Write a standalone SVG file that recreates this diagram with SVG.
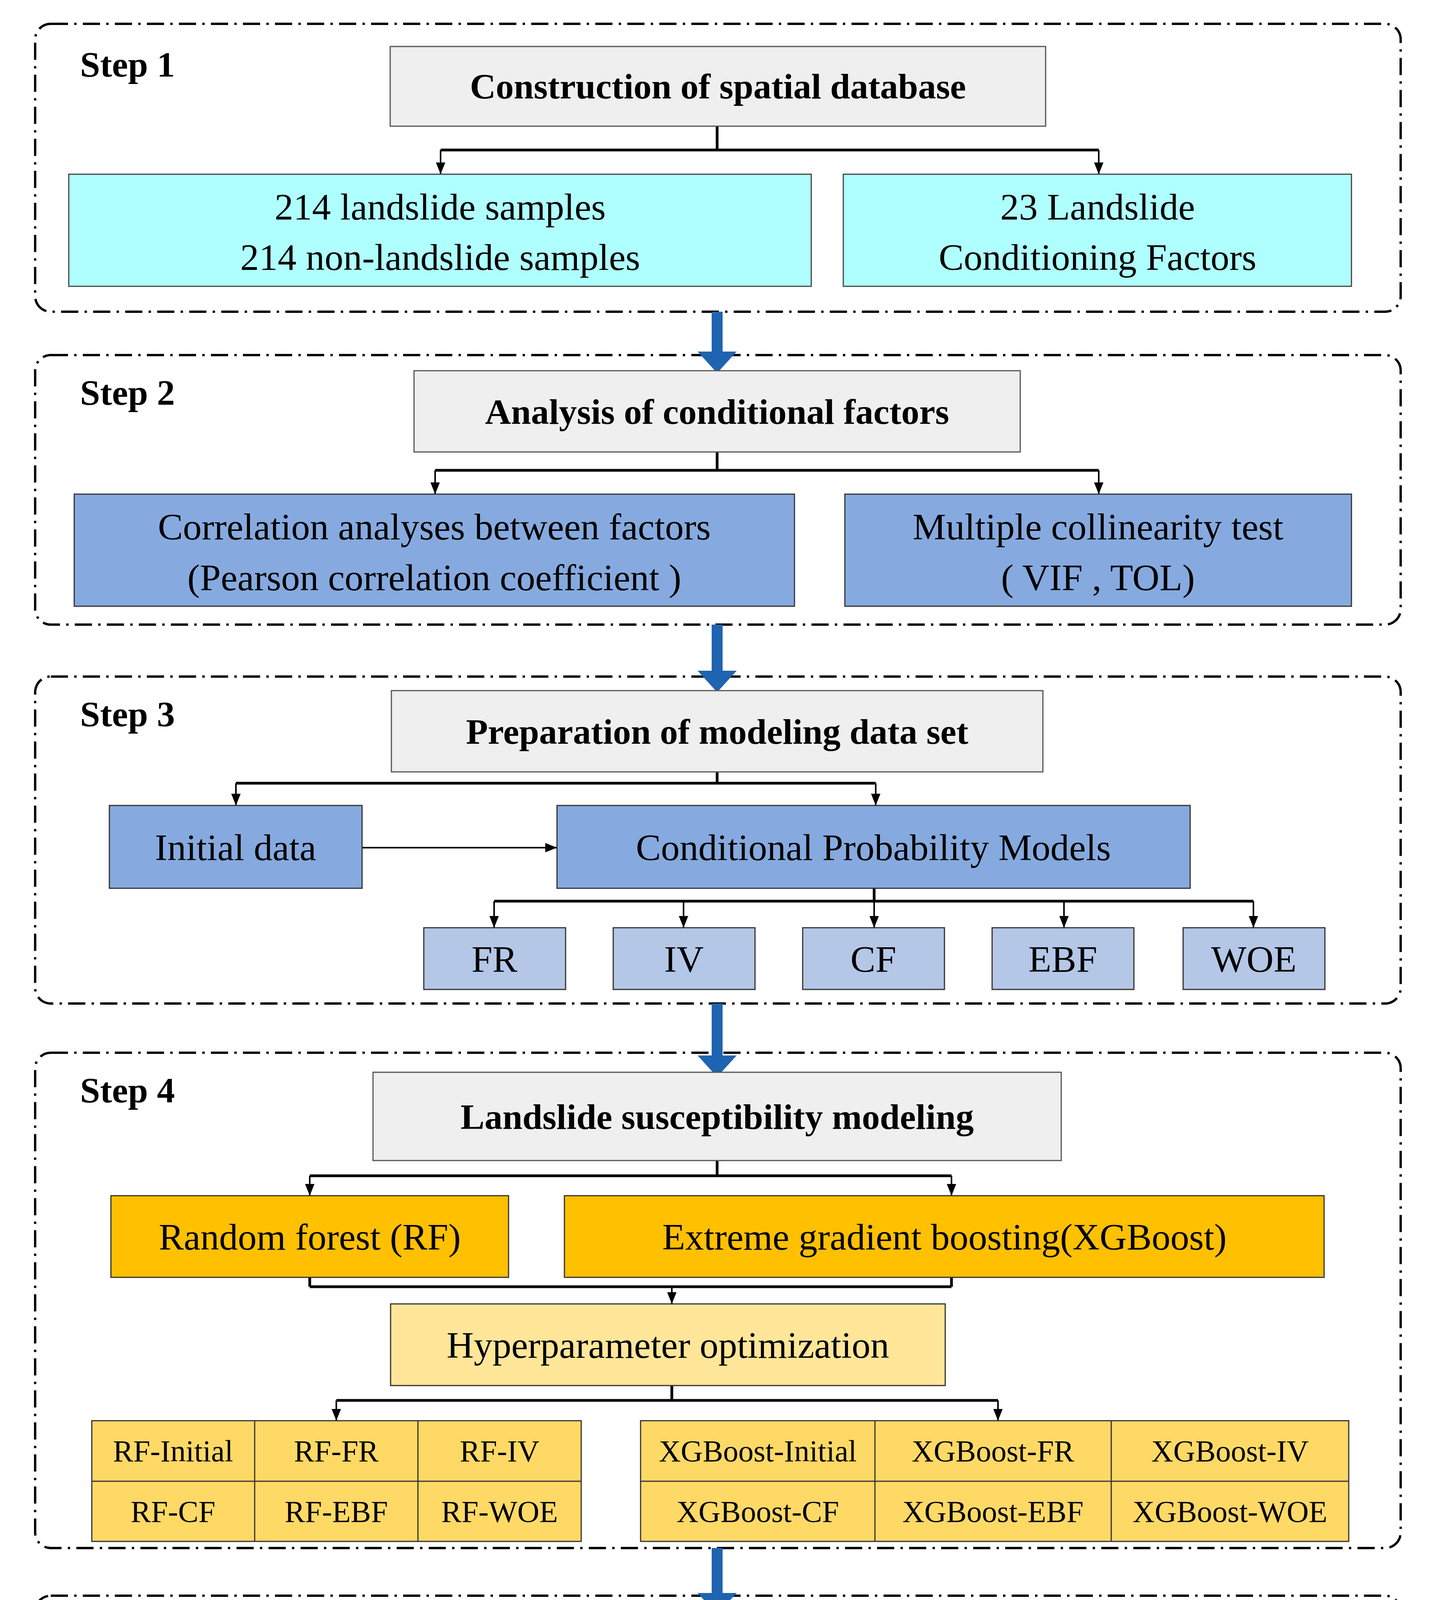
<svg xmlns="http://www.w3.org/2000/svg" width="3679" height="5676" viewBox="0 0 3679 5676">
<defs>
<marker id="a" viewBox="0 0 30 24" refX="30" refY="12" markerWidth="30" markerHeight="24" orient="auto" markerUnits="userSpaceOnUse"><path d="M0,0 L30,12 L0,24 z" fill="#000"/></marker>
</defs>
<style>
.step{fill:none;stroke:#000;stroke-width:6;stroke-dasharray:44 16 6 16}
.lab{font-family:"Liberation Serif",serif;font-weight:bold;font-size:92px}
.t{font-family:"Liberation Serif",serif;font-weight:bold;font-size:92px;text-anchor:middle}
.n{font-family:"Liberation Serif",serif;font-size:96px;text-anchor:middle}
.s{font-family:"Liberation Serif",serif;font-size:78px;text-anchor:middle}
.gray{fill:#EFEFEF;stroke:#555;stroke-width:3}
.cyan{fill:#AFFFFF;stroke:#444;stroke-width:3}
.blue{fill:#86AADF;stroke:#333;stroke-width:3}
.lblue{fill:#B4C7E7;stroke:#333;stroke-width:3}
.org{fill:#FFC000;stroke:#333;stroke-width:3}
.ly{fill:#FFE699;stroke:#333;stroke-width:3}
.y{fill:#FFD966;stroke:#333;stroke-width:3}
.sal{fill:#F8B183;stroke:#555;stroke-width:3}
.c{fill:none;stroke:#000;stroke-width:7}
.ca{fill:none;stroke:#000;stroke-width:4;marker-end:url(#a)}
.big{fill:#1F64B0}
</style>
<g id="steps">
<rect class="step" x="90" y="61" width="3496" height="737" rx="40"/>
<rect class="step" x="90" y="909" width="3496" height="690" rx="40"/>
<rect class="step" x="90" y="1732" width="3496" height="837" rx="40"/>
<rect class="step" x="90" y="2695" width="3496" height="1268" rx="40"/>
<rect class="step" x="90" y="4085" width="3496" height="500" rx="40"/>
<rect class="step" x="90" y="4714" width="3496" height="866" rx="40"/>
<text class="lab" x="205" y="196">Step 1</text>
<text class="lab" x="205" y="1036">Step 2</text>
<text class="lab" x="205" y="1859">Step 3</text>
<text class="lab" x="205" y="2822">Step 4</text>
<text class="lab" x="205" y="4212">Step 5</text>
<text class="lab" x="205" y="4841">Step 6</text>
</g>
<g id="connectors">
<path class="big" d="M1822,798 h28 v102 h36 l-50,55 l-50,-55 h36 z"/>
<path class="big" d="M1822,1599 h28 v118 h36 l-50,55 l-50,-55 h36 z"/>
<path class="big" d="M1822,2569 h28 v133 h36 l-50,55 l-50,-55 h36 z"/>
<path class="big" d="M1822,3963 h28 v115 h36 l-50,55 l-50,-55 h36 z"/>
<path class="big" d="M1822,4585 h28 v120 h36 l-50,55 l-50,-55 h36 z"/>
<path class="c" d="M1836,323 V384 M1128,384 H2813"/>
<path class="ca" d="M1128,384 V446"/><path class="ca" d="M2813,384 V446"/>
<path class="c" d="M1836,1157 V1204 M1114,1204 H2813"/>
<path class="ca" d="M1114,1204 V1265"/><path class="ca" d="M2813,1204 V1265"/>
<path class="c" d="M1836,1976 V2005 M604,2005 H2242"/>
<path class="ca" d="M604,2005 V2062"/><path class="ca" d="M2242,2005 V2062"/><path class="ca" d="M927,2170 H1426"/>
<path class="c" d="M2238,2274 V2307 M1265,2307 H3209"/>
<path class="ca" d="M1265,2307 V2375"/><path class="ca" d="M1750,2307 V2375"/><path class="ca" d="M2238,2307 V2375"/><path class="ca" d="M2724,2307 V2375"/><path class="ca" d="M3209,2307 V2375"/>
<path class="c" d="M1836,2971 V3010 M793,3010 H2436"/>
<path class="ca" d="M793,3010 V3061"/><path class="ca" d="M2436,3010 V3061"/>
<path class="c" d="M793,3270 V3294 M2436,3270 V3294 M793,3294 H2436"/>
<path class="ca" d="M1720,3294 V3338"/>
<path class="c" d="M1720,3547 V3585 M861,3585 H2555"/>
<path class="ca" d="M861,3585 V3637"/><path class="ca" d="M2555,3585 V3637"/>
</g>
<g id="step1">
<rect class="gray" x="999" y="119" width="1678" height="204"/>
<text class="t" x="1838" y="252">Construction of spatial database</text>
<rect class="cyan" x="176" y="446" width="1901" height="287"/>
<text class="n" x="1127" y="562">214 landslide samples</text>
<text class="n" x="1127" y="691">214 non-landslide samples</text>
<rect class="cyan" x="2159" y="446" width="1301" height="287"/>
<text class="n" x="2810" y="562">23 Landslide</text>
<text class="n" x="2810" y="691">Conditioning Factors</text>
</g>
<g id="step2">
<rect class="gray" x="1060" y="949" width="1552" height="208"/>
<text class="t" x="1836" y="1085">Analysis of conditional factors</text>
<rect class="blue" x="190" y="1265" width="1844" height="287"/>
<text class="n" x="1112" y="1381">Correlation analyses between factors</text>
<text class="n" x="1112" y="1511">(Pearson correlation coefficient )</text>
<rect class="blue" x="2163" y="1265" width="1297" height="287"/>
<text class="n" x="2811" y="1381">Multiple collinearity test</text>
<text class="n" x="2811" y="1511">( VIF , TOL)</text>
</g>
<g id="step3">
<rect class="gray" x="1002" y="1768" width="1668" height="208"/>
<text class="t" x="1836" y="1904">Preparation of modeling data set</text>
<rect class="blue" x="280" y="2062" width="647" height="212"/>
<text class="n" x="603" y="2202">Initial data</text>
<rect class="blue" x="1426" y="2062" width="1621" height="212"/>
<text class="n" x="2236" y="2202">Conditional Probability Models</text>
<rect class="lblue" x="1085" y="2375" width="363" height="158"/><text class="n" x="1266" y="2488">FR</text>
<rect class="lblue" x="1570" y="2375" width="363" height="158"/><text class="n" x="1751" y="2488">IV</text>
<rect class="lblue" x="2055" y="2375" width="363" height="158"/><text class="n" x="2236" y="2488">CF</text>
<rect class="lblue" x="2540" y="2375" width="363" height="158"/><text class="n" x="2721" y="2488">EBF</text>
<rect class="lblue" x="3029" y="2375" width="363" height="158"/><text class="n" x="3210" y="2488">WOE</text>
</g>
<g id="step4">
<rect class="gray" x="955" y="2745" width="1762" height="226"/>
<text class="t" x="1836" y="2890">Landslide susceptibility modeling</text>
<rect class="org" x="284" y="3061" width="1018" height="209"/>
<text class="n" x="793" y="3199">Random forest (RF)</text>
<rect class="org" x="1445" y="3061" width="1945" height="209"/>
<text class="n" x="2418" y="3199">Extreme gradient boosting(XGBoost)</text>
<rect class="ly" x="1000" y="3338" width="1420" height="209"/>
<text class="n" x="1710" y="3476">Hyperparameter optimization</text>
<rect class="y" x="235" y="3637" width="1253" height="309"/>
<path d="M235,3792 H1488 M652,3637 V3946 M1070,3637 V3946" stroke="#333" stroke-width="3"/>
<text class="s" x="443" y="3741">RF-Initial</text>
<text class="s" x="861" y="3741">RF-FR</text>
<text class="s" x="1279" y="3741">RF-IV</text>
<text class="s" x="443" y="3896">RF-CF</text>
<text class="s" x="861" y="3896">RF-EBF</text>
<text class="s" x="1279" y="3896">RF-WOE</text>
<rect class="y" x="1640" y="3637" width="1813" height="309"/>
<path d="M1640,3792 H3453 M2240,3637 V3946 M2845,3637 V3946" stroke="#333" stroke-width="3"/>
<text class="s" x="1940" y="3741">XGBoost-Initial</text>
<text class="s" x="2542" y="3741">XGBoost-FR</text>
<text class="s" x="3149" y="3741">XGBoost-IV</text>
<text class="s" x="1940" y="3896">XGBoost-CF</text>
<text class="s" x="2542" y="3896">XGBoost-EBF</text>
<text class="s" x="3149" y="3896">XGBoost-WOE</text>
</g>
<g id="step5">
<rect class="gray" x="862" y="4125" width="1948" height="201"/>
<text class="t" x="1836" y="4258">Evaluation and comparison of models</text>
<rect class="sal" x="323" y="4391" width="521" height="154"/><text class="s" x="583" y="4495">ROC - AUC</text>
<rect class="sal" x="870" y="4391" width="316" height="154"/><text class="s" x="1028" y="4495">TPR</text>
<rect class="sal" x="1211" y="4391" width="316" height="154"/><text class="s" x="1369" y="4495">TNR</text>
<rect class="sal" x="1552" y="4391" width="431" height="154"/><text class="s" x="1767" y="4495">Accuracy</text>
<rect class="sal" x="2008" y="4391" width="417" height="154"/><text class="s" x="2216" y="4495">F1 score</text>
<rect class="sal" x="2447" y="4391" width="643" height="154"/><text class="s" x="2768" y="4495">Kappa coefficient</text>
<rect class="sal" x="3115" y="4391" width="320" height="154"/><text class="s" x="3275" y="4495">RMSE</text>
</g>
<g id="step6">
<rect class="gray" x="862" y="4750" width="1948" height="208"/>
<text class="t" x="1836" y="4886">Shapley Additive Explanations analysis</text>
<rect class="sal" x="1053" y="5005" width="1566" height="155"/><text class="s" x="1836" y="5110">Factor Importance based on Shapley Value</text>
<rect class="sal" x="1053" y="5195" width="1566" height="155"/><text class="s" x="1836" y="5300">Influence of factors on prediction result</text>
<rect class="sal" x="1053" y="5386" width="1566" height="151"/><text class="s" x="1836" y="5489">Dependence and interaction of factors</text>
</g>
</svg>
